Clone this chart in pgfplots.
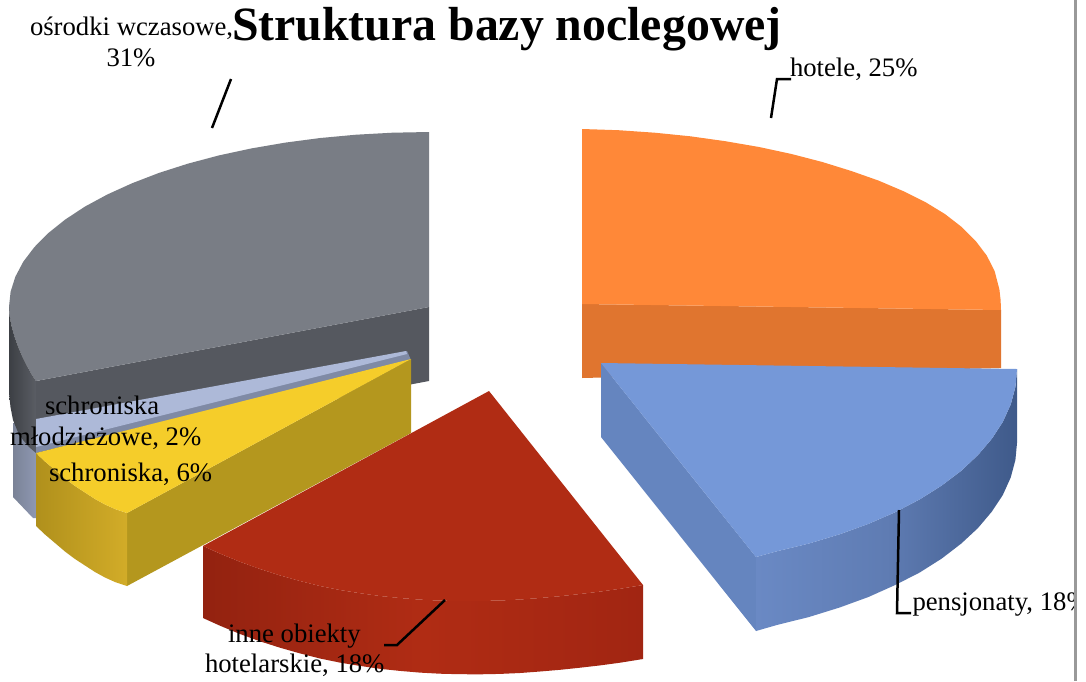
\documentclass[border=0pt]{standalone}
\usepackage{pgfplots}
\pgfplotsset{compat=1.18}
\usepackage{fontspec}
\setmainfont{Liberation Serif}
\definecolor{grT}{HTML}{797D85}
\definecolor{grF}{HTML}{55585F}
\definecolor{grL}{HTML}{3C3F44}
\definecolor{grR}{HTML}{5A5D64}
\definecolor{orT}{HTML}{FF8838}
\definecolor{orF}{HTML}{E0752F}
\definecolor{blT}{HTML}{7598D8}
\definecolor{blF}{HTML}{6585BF}
\definecolor{blL}{HTML}{6A89C4}
\definecolor{blM}{HTML}{5F7CB3}
\definecolor{blR}{HTML}{3F5A8A}
\definecolor{reT}{HTML}{B02C14}
\definecolor{reL}{HTML}{932210}
\definecolor{reR}{HTML}{A12512}
\definecolor{yeT}{HTML}{F5CD2A}
\definecolor{yeF}{HTML}{B4971E}
\definecolor{yeL}{HTML}{B0901C}
\definecolor{yeR}{HTML}{D2AC28}
\definecolor{lbT}{HTML}{ADB9D8}
\definecolor{lbF}{HTML}{7F8AA5}
\definecolor{lbL}{HTML}{7A8296}
\definecolor{lbR}{HTML}{8E98B2}
\newcommand{\lab}{\fontsize{26.7}{30}\selectfont}
\tikzset{tx/.style={anchor=base west,inner sep=0pt,outer sep=0pt}}
\begin{document}
\begin{tikzpicture}
\begin{axis}[
  width=1086pt,height=681pt,scale only axis,
  xmin=0,xmax=1086,ymin=0,ymax=681,y dir=reverse,
  axis lines=none,clip=false]
\addplot[draw=none,fill=white] coordinates {(0,0)(1086,0)(1086,681)(0,681)} --cycle;
% orange: hotele 25
\addplot[draw=none,fill=orF] coordinates {(582,304)(1001,310)(1001,368)(582,378)} --cycle;
\addplot[draw=none,fill=orT] coordinates {(582,129)(618.5,130.2)(654.7,132.7)(690.4,136.3)(725.3,141.2)(759.1,147)(791.5,154)(822.3,162)(851.3,171)(878.3,180.5)(903,191)(925.2,202)(944.9,214)(961.7,227)(975.7,241)(986.7,255.5)(994.6,271)(999.4,289.5)(1000.6,300)(1001,310)(582,304)} --cycle;
% grey: osrodki wczasowe 31
\addplot[draw=none,fill=grF] coordinates {(429,307)(36,381)(36,455)(429,381)} --cycle;
\addplot[draw=none,fill=grT] coordinates {(429,132)(392.4,132.7)(356.1,134.7)(320.3,138)(285.4,142.6)(251.5,148.4)(219,155.4)(188.1,163.6)(159,172.9)(132,183.3)(107.3,194.5)(84.9,206.6)(65.3,219.5)(48.4,233)(34.3,247.2)(23.3,261.7)(15.4,276.6)(10.6,291.7)(9,307)(9.6,316)(11.5,326)(14.3,336)(17.8,346)(22,356)(27,366)(32,375)(36,381)(429,307)} --cycle;
% light blue side: schroniska mlodziezowe 2
\addplot[draw=none,left color=lbL,right color=lbR] coordinates {(13,423)(36,423)(36,518)(33,518)(13,497)} --cycle;
% grey curved side
\addplot[draw=none,left color=grL,right color=grR] coordinates {(9,307)(9.6,316)(11.5,326)(14.3,336)(17.8,346)(22,356)(27,366)(32,375)(36,381)(36,453)(29,447)(23,440)(17.5,431)(13,420)(10.5,407)(9,393)} --cycle;
% light blue top
\addplot[draw=none,fill=lbF] coordinates {(407,351)(411,360)(36,453)(36,446)} --cycle;
\addplot[draw=none,fill=lbT] coordinates {(36,419)(406,351)(407,354)(36,447)} --cycle;
% yellow: schroniska 6
\addplot[draw=none,fill=yeF] coordinates {(411,359)(127,513)(127,586)(411,433)} --cycle;
\addplot[draw=none,left color=yeL,right color=yeR] coordinates {(36,453)(45,461.5)(55,470)(65,478.5)(75,486)(85,492.5)(95,499)(105,504.5)(115,509)(127,513)(127,586)(115,582)(105,577.5)(95,572)(85,565.5)(75,559)(65,551.5)(55,543)(45,534.5)(36,526)} --cycle;
\addplot[draw=none,fill=yeT] coordinates {(411,359)(36,453)(45,461.5)(55,470)(65,478.5)(75,486)(85,492.5)(95,499)(105,504.5)(115,509)(127,513)} --cycle;
% red: inne obiekty hotelarskie 18
\addplot[draw=none,left color=reL,right color=reR,middle color=reT] coordinates {(203,546)(220,553.6)(240,561.8)(260,569)(280,575.4)(300,581)(320,586)(340,590)(360,593.2)(380,596)(400,598)(420,599.6)(440,600.6)(460,601)(480,601)(500,600.5)(520,599.5)(540,598)(560,596.2)(580,594)(600,591.6)(620,588.8)(643,585)(643,659)(620,662.7)(600,665.4)(580,667.7)(560,669.8)(540,671.5)(520,673)(500,673.9)(480,674.3)(460,674.2)(440,673.7)(420,672.6)(400,670.9)(380,668.8)(360,665.9)(340,662.6)(320,658.5)(300,653.4)(280,647.7)(260,641.3)(240,634)(220,625.7)(203,618)} --cycle;
\addplot[draw=none,fill=reT] coordinates {(489,391)(203,546)(220,553.6)(240,561.8)(260,569)(280,575.4)(300,581)(320,586)(340,590)(360,593.2)(380,596)(400,598)(420,599.6)(440,600.6)(460,601)(480,601)(500,600.5)(520,599.5)(540,598)(560,596.2)(580,594)(600,591.6)(620,588.8)(643,585)} --cycle;
% blue: pensjonaty 18
\addplot[draw=none,fill=blF] coordinates {(601,363)(756,557)(756,631)(601,437)} --cycle;
\addplot[draw=none,left color=blL,right color=blR,middle color=blM] coordinates {(756,557)(776.8,551.3)(809,543.5)(839.6,534.3)(868.4,523.9)(895.2,512.2)(919.7,499.4)(941.8,485.5)(961.3,470.7)(978,455)(991.9,438.7)(1002.8,421.9)(1010.7,404.5)(1015.4,386.9)(1017,369)(1017,443)(1015.4,460)(1010.7,477.5)(1002.8,495)(991.9,511.5)(978,528)(961.3,543.5)(941.8,558.5)(919.7,572.5)(895.2,585)(868.4,597)(839.6,607.5)(809,617)(776.8,625)(756,631)} --cycle;
\addplot[draw=none,fill=blT] coordinates {(601,363)(1017,369)(1015.4,386.9)(1010.7,404.5)(1002.8,421.9)(991.9,438.7)(978,455)(961.3,470.7)(941.8,485.5)(919.7,499.4)(895.2,512.2)(868.4,523.9)(839.6,534.3)(809,543.5)(776.8,551.3)(756,557)} --cycle;
% leader lines
\addplot[black,line width=2.5pt] coordinates {(791,79)(777,79)(771,118)};
\addplot[black,line width=2.5pt] coordinates {(231,79)(212,128)};
\addplot[black,line width=2.5pt] coordinates {(899,510)(897,613)(911,613)};
\addplot[black,line width=2.5pt] coordinates {(445,600)(397,645)(384,645)};
% texts
\node[tx] at (axis cs:232,40) {\fontsize{47.8}{50}\selectfont\bfseries Struktura bazy noclegowej};
\node[tx] at (axis cs:30,35) {\lab ośrodki wczasowe,};
\node[anchor=base,inner sep=0pt] at (axis cs:131,66) {\lab 31\%};
\node[tx] at (axis cs:790,76) {\lab hotele, 25\%};
\node[tx] at (axis cs:45,414) {\lab schroniska};
\node[tx] at (axis cs:10,445) {\lab młodzieżowe, 2\%};
\node[tx] at (axis cs:49,481) {\lab schroniska, 6\%};
\node[tx] at (axis cs:228,642) {\lab inne obiekty};
\node[tx] at (axis cs:205,672) {\lab hotelarskie, 18\%};
\node[tx] at (axis cs:912,610) {\lab\rlap{pensjonaty, 18\%}};
% right border
\addplot[draw=none,fill=white] coordinates {(1075,0)(1086,0)(1086,681)(1075,681)} --cycle;
\addplot[draw=none,fill=black!40] coordinates {(1074,0)(1076.5,0)(1076.5,681)(1074,681)} --cycle;
\end{axis}
\end{tikzpicture}
\end{document}
